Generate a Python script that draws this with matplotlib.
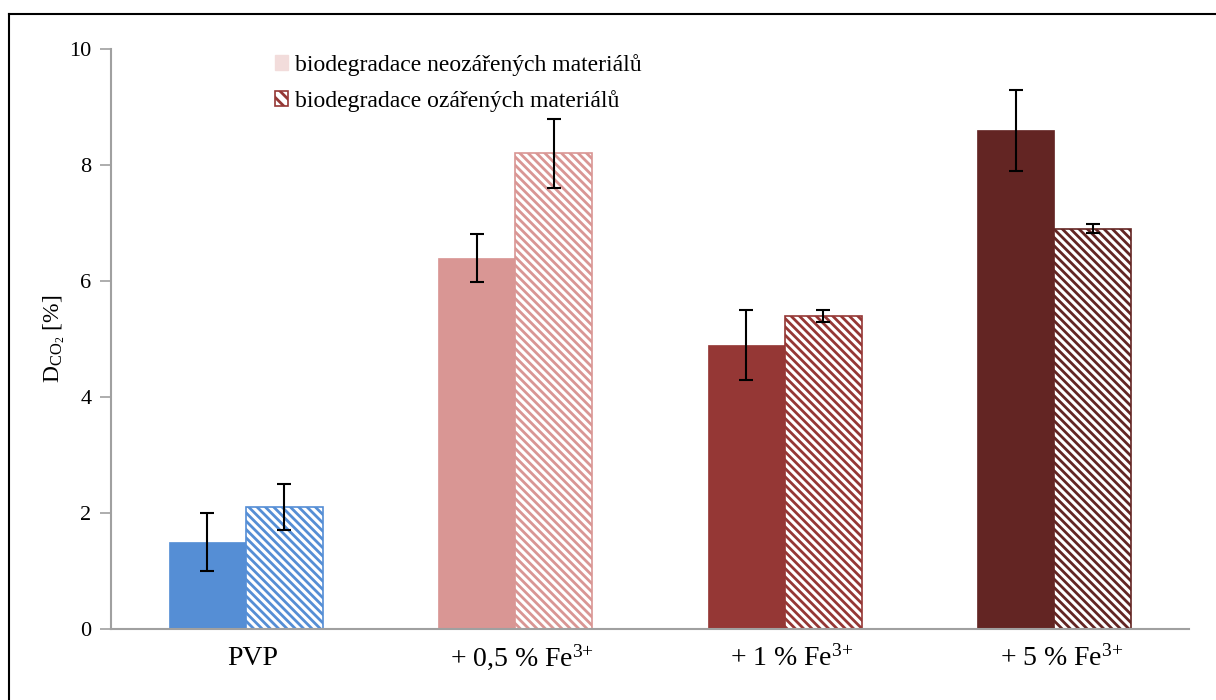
import matplotlib
matplotlib.use("Agg")
import matplotlib.pyplot as plt
import matplotlib.transforms as mtransforms
import numpy as np
from matplotlib.patches import Patch
from matplotlib.lines import Line2D

categories = ["PVP", "+ 0,5 % Fe$^{\\mathrm{3{+}}}$", "+ 1 % Fe$^{\\mathrm{3{+}}}$", "+ 5 % Fe$^{\\mathrm{3{+}}}$"]
neozarene = [1.5, 6.4, 4.9, 8.6]
neozarene_err = [0.5, 0.41, 0.6, 0.7]
ozarene = [2.1, 8.2, 5.4, 6.9]
ozarene_err = [0.4, 0.6, 0.1, 0.08]
colors = ["#558ED5", "#D99694", "#953735", "#632523"]
legend_labels = ["biodegradace neozářených materiálů", "biodegradace ozářených materiálů"]
yticks = [0, 2, 4, 6, 8, 10]

plt.rcParams['font.family'] = ['Liberation Serif', 'DejaVu Serif']
plt.rcParams['mathtext.fontset'] = 'custom'
plt.rcParams['mathtext.rm'] = 'Liberation Serif'
plt.rcParams['mathtext.it'] = 'Liberation Serif:italic'
plt.rcParams['hatch.linewidth'] = 2.0

fig = plt.figure(figsize=(12.16, 7.0), dpi=100)
ax = fig.add_axes([111/1216, 71/700, (1189-111)/1216, (629-49)/700])

x = np.arange(len(categories))
w = 0.286
HATCH = '\\\\\\\\'
ax.bar(x - w/2, neozarene, width=w, color=colors, edgecolor=colors, linewidth=0.5, zorder=2)
for i in range(len(categories)):
    ax.bar(x[i] + w/2, ozarene[i], width=w, facecolor='white', edgecolor=colors[i],
           hatch=HATCH, linewidth=1.2, zorder=2)
ax.errorbar(x - w/2, neozarene, yerr=neozarene_err, fmt='none', ecolor='black',
            elinewidth=1.5, capsize=5, capthick=1.5, zorder=3)
ax.errorbar(x + w/2, ozarene, yerr=ozarene_err, fmt='none', ecolor='black',
            elinewidth=1.5, capsize=5, capthick=1.5, zorder=3)

ax.set_xlim(-0.5, 3.5)
ax.set_ylim(0, 10)
ax.set_yticks(yticks)
ax.set_yticklabels([str(t) for t in yticks], fontsize=16)
ax.set_xticks(x)
ax.set_xticklabels(categories, fontsize=20, va='baseline')
ax.tick_params(axis='x', length=0, pad=26)
ax.tick_params(axis='y', length=8, width=1.2, color='#A0A0A0', pad=6)
offset = mtransforms.ScaledTranslation(7/100, 0, fig.dpi_scale_trans)
for lbl in ax.get_xticklabels():
    lbl.set_transform(lbl.get_transform() + offset)
for s in ['top', 'right']:
    ax.spines[s].set_visible(False)
for s in ['left', 'bottom']:
    ax.spines[s].set_color('#A0A0A0')
    ax.spines[s].set_linewidth(1.5)

ax.set_ylabel("D$_{\\mathrm{CO_2}}$ [%]", fontsize=17, labelpad=2)

handles = [Patch(facecolor='#F2DCDB', edgecolor='#F2DCDB'),
           Patch(facecolor='white', edgecolor='#953735', hatch='\\\\\\', linewidth=1.2)]
ax.legend(handles, legend_labels, loc='upper left', bbox_to_anchor=(0.143, 1.008),
          frameon=False, fontsize=17, handlelength=0.55, handleheight=0.6,
          handletextpad=0.3, labelspacing=0.6, borderaxespad=0)

# figure border (left and top edges visible)
fig.add_artist(Line2D([9/1216, 9/1216], [0, 686/700], color='black', linewidth=1.5,
                      transform=fig.transFigure))
fig.add_artist(Line2D([9/1216, 1], [686/700, 686/700], color='black', linewidth=1.5,
                      transform=fig.transFigure))

fig.savefig("out.png", dpi=100)
